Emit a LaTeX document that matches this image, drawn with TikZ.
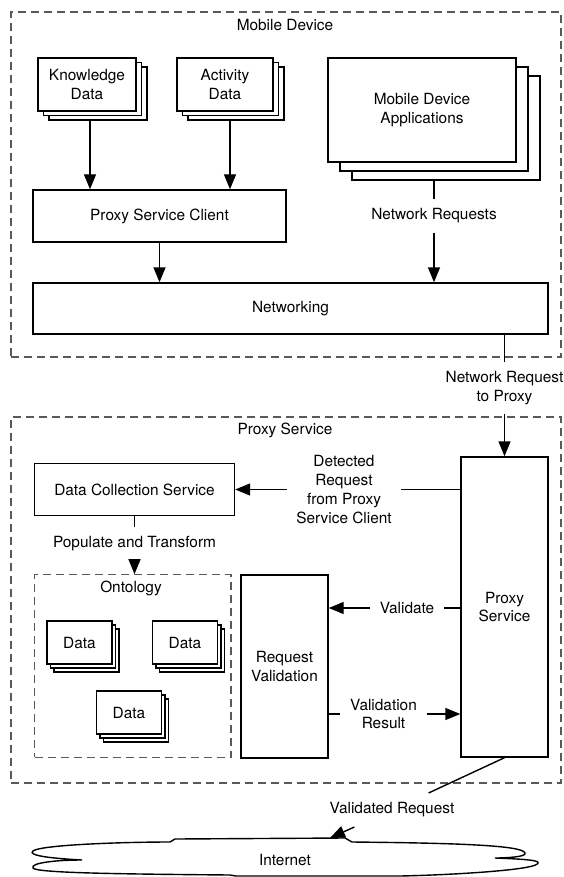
\documentclass[tikz,border=0pt]{standalone}
\usepackage{fontspec}
\setmainfont{TeX Gyre Heros}
\usetikzlibrary{arrows.meta}
\usetikzlibrary{shadows}

\tikzset{
  box/.style={draw, fill=white, align=center},
  stack/.style 2 args={box,
    general shadow={shadow xshift=2*#1, shadow yshift=-2*#2, draw, fill=white},
    general shadow={shadow xshift=#1, shadow yshift=-#2, draw, fill=white}},
  zone/.style={draw=black!65, line width=0.6pt, dash pattern=on 4pt off 2.5pt},
  lbl/.style={align=center, inner sep=4.5pt},
}

\begin{document}
\begin{tikzpicture}[x=0.5pt, y=-0.5pt, line width=0.7pt,
    >={Triangle[length=7.5pt,width=6pt]},
    font=\fontsize{7.7}{9.4}\selectfont]
\useasboundingbox (0,0) rectangle (563,877);

% mobile device
\node[zone, minimum width=275pt, minimum height=172.5pt] (mobile) at (286,184.5) {};
\node (mobiletitle) at (285,25) {Mobile Device};
\node[stack={2.75pt}{2.25pt}, minimum width=49pt, minimum height=26.5pt] (know) at (87,84.5) {Knowledge\\Data};
\node[stack={2.75pt}{2.25pt}, minimum width=48pt, minimum height=26.5pt] (act) at (225,84.5) {Activity\\Data};
\node[stack={6pt}{4.5pt}, minimum width=94pt, minimum height=52pt] (apps) at (422,110) {Mobile Device\\Applications};
\node[box, minimum width=126.5pt, minimum height=26pt] (psc) at (159.5,216) {Proxy Service Client};
\node[box, minimum width=257.5pt, minimum height=25.5pt] (net) at (290.5,308.5) {Networking};
\node[lbl] (nreqs) at (434,216) {Network Requests};

\draw[->] ([xshift=1.5pt,yshift=-4.5pt]know.south) -- ([xshift=1.5pt]know.south |- psc.north);
\draw[->] ([xshift=2.5pt,yshift=-4.5pt]act.south) -- ([xshift=2.5pt]act.south |- psc.north);
\draw ([xshift=6pt,yshift=-9pt]apps.south) -- (nreqs);
\draw[->] (nreqs) -- (nreqs |- net.north);
\draw[->] (psc.south) -- (psc.south |- net.north);

% proxy service
\node[zone, minimum width=275pt, minimum height=183pt] (proxyzone) at (286,600) {};
\node (proxytitle) at (285,430) {Proxy Service};
\node[box, minimum width=43.5pt, minimum height=150pt] (proxy) at (504.5,607) {Proxy\\Service};
\node[lbl] (nrp) at (504.5,388) {Network Request\\to Proxy};
\draw (nrp |- net.south) -- (nrp);
\draw[->] (nrp) -- (proxy.north);

\node[box, minimum width=100pt, minimum height=26pt] (dcs) at (134.5,489.5) {Data Collection Service};
\node[lbl] (det) at (344,489.5) {Detected\\Request\\from Proxy\\Service Client};
\draw (proxy.west |- det) -- (det);
\draw[->] (det) -- (dcs.east);

\node[zone, minimum width=98.25pt, minimum height=91.25pt] (onto) at (132.75,666) {};
\node (ontotitle) at (131,588) {Ontology};
\node[lbl] (pop) at (134.5,544) {Populate and Transform};
\draw (dcs) -- (pop);
\draw[->] (pop) -- (pop |- onto.north);
\node[stack={1.75pt}{2pt}, minimum width=32.5pt, minimum height=21.5pt] (data1) at (79.5,642.5) {Data};
\node[stack={1.75pt}{2pt}, minimum width=32.5pt, minimum height=21.5pt] (data2) at (185,642.5) {Data};
\node[stack={1.75pt}{2pt}, minimum width=32.5pt, minimum height=21.5pt] (data3) at (129,712.5) {Data};

\node[box, minimum width=43.5pt, minimum height=91.5pt] (rv) at (284.5,666.5) {Request\\Validation};
\node[lbl] (val) at (407,608) {Validate};
\draw (proxy.west |- val) -- (val);
\draw[->] (val) -- (val -| rv.east);
\node[lbl] (vres) at (383.5,714) {Validation\\Result};
\draw (rv.east |- vres) -- (vres);
\draw[->] (vres) -- (vres -| proxy.west);

% internet
\draw (170,842) .. controls (120,842) and (40,845) .. (33,851)
  .. controls (28,855) and (45,858) .. (82,860)
  .. controls (55,860) and (30,863) .. (33,868)
  .. controls (36,873) and (120,874) .. (230,875)
  -- (236,876) -- (400,876)
  .. controls (450,875) and (538,870) .. (538,863)
  .. controls (540,860) and (520,859) .. (495,858)
  .. controls (505,858) and (527,857) .. (525,853)
  .. controls (523,845) and (450,843) .. (352,842)
  -- (345,838) -- (175,839) -- cycle;
\node (inet) at (285,860) {Internet};
\coordinate (inettop) at (330,838);
\node[lbl] (vreq) at (392,810) {Validated Request};
\draw (proxy.south) -- (vreq);
\draw[->] (vreq) -- (inettop);
\end{tikzpicture}
\end{document}
